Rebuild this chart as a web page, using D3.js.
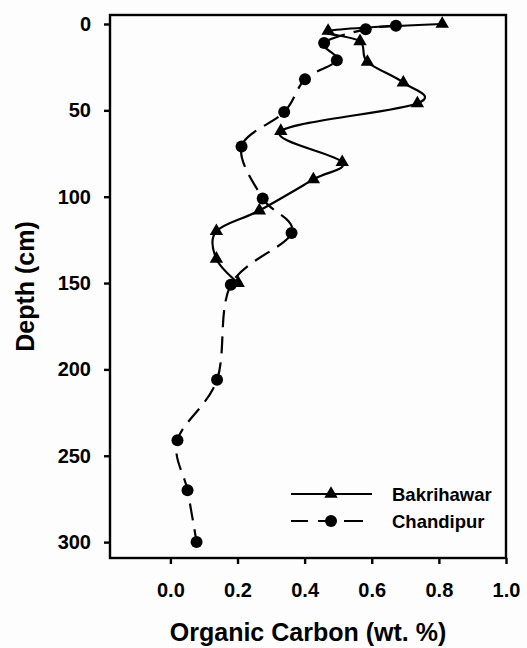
<!DOCTYPE html>
<html>
<head>
<meta charset="utf-8">
<script src="https://cdnjs.cloudflare.com/ajax/libs/d3/7.8.5/d3.min.js"></script>
<style>
  body { margin: 0; background: #fdfdfd; }
  svg text { font-family: "Liberation Sans", Arial, sans-serif; font-weight: bold; fill: #000; }
</style>
</head>
<body>
<div id="chart"></div>
<script>
// Bakrihawar core (solid line, triangles)
var bakDepth = [0, 4, 10, 22, 34, 46, 62, 80, 90, 108, 120, 136, 150];
var bakOC    = [0.81, 0.47, 0.565, 0.587, 0.694, 0.736, 0.329, 0.512, 0.426, 0.265, 0.137, 0.137, 0.202];

// Chandipur core (dashed line, circles)
var chaDepth = [1, 3, 11, 21, 32, 51, 71, 101, 121, 151, 206, 241, 270, 300];
var chaOC    = [0.672, 0.582, 0.458, 0.496, 0.401, 0.339, 0.212, 0.275, 0.361, 0.180, 0.139, 0.021, 0.051, 0.078];

var xTicks = [0.0, 0.2, 0.4, 0.6, 0.8, 1.0];
var yTicks = [0, 50, 100, 150, 200, 250, 300];
var seriesNames = ["Bakrihawar", "Chandipur"];

var W = 527, H = 648;
var pLeft = 110, pRight = 506, pTop = 15, pBottom = 558;

var svg = d3.select("#chart").append("svg")
	.attr("width", W)
	.attr("height", H);

var x = d3.scaleLinear().domain([-0.18, 1.0]).range([pLeft, pRight]);
var y = d3.scaleLinear().domain([-5.2, 309.2]).range([pTop, pBottom]);

// frame
svg.append("rect")
	.attr("x", pLeft).attr("y", pTop)
	.attr("width", pRight - pLeft).attr("height", pBottom - pTop)
	.style("fill", "none").style("stroke", "#000").style("stroke-width", 2.4);

// axes
var xAxis = svg.append("g")
	.attr("transform", "translate(0," + pBottom + ")")
	.call(d3.axisBottom(x).tickValues(xTicks).tickFormat(d3.format(".1f")).tickSizeOuter(0).tickSizeInner(6).tickPadding(19));
var yAxis = svg.append("g")
	.attr("transform", "translate(" + pLeft + ",0)")
	.call(d3.axisLeft(y).tickValues(yTicks).tickSizeOuter(0).tickSizeInner(6).tickPadding(13));

[xAxis, yAxis].forEach(function(a){
	a.select(".domain").remove();
	a.selectAll(".tick line").style("stroke", "#000").style("stroke-width", 2.4);
	a.selectAll(".tick text").style("font-size", "20px").style("font-family", "Liberation Sans, Arial, sans-serif").style("font-weight", "bold");
});

// axis titles
svg.append("text")
	.attr("x", (pLeft + pRight) / 2)
	.attr("y", 641)
	.attr("text-anchor", "middle")
	.style("font-size", "25px")
	.text("Organic Carbon (wt. %)");

svg.append("text")
	.attr("transform", "translate(34," + (pTop + pBottom) / 2 + ") rotate(-90)")
	.attr("text-anchor", "middle")
	.style("font-size", "25px")
	.text("Depth (cm)");

var bak = bakDepth.map(function(d, i){ return [bakOC[i], d]; });
var cha = chaDepth.map(function(d, i){ return [chaOC[i], d]; });

var line = d3.line()
	.x(function(d){ return x(d[0]); })
	.y(function(d){ return y(d[1]); })
	.curve(d3.curveCatmullRom.alpha(0));

svg.append("path")
	.attr("d", line(cha))
	.style("fill", "none").style("stroke", "#000").style("stroke-width", 2.2)
	.style("stroke-dasharray", "17,9");

svg.append("path")
	.attr("d", line(bak))
	.style("fill", "none").style("stroke", "#000").style("stroke-width", 2.2);

var tri = d3.symbol().type(d3.symbolTriangle).size(78);

svg.append("g").selectAll("path")
	.data(bak).enter().append("path")
	.attr("d", tri)
	.attr("transform", function(d){ return "translate(" + x(d[0]) + "," + y(d[1]) + ")"; })
	.style("fill", "#000");

svg.append("g").selectAll("circle")
	.data(cha).enter().append("circle")
	.attr("cx", function(d){ return x(d[0]); })
	.attr("cy", function(d){ return y(d[1]); })
	.attr("r", 6)
	.style("fill", "#000");

// legend
var legend = svg.append("g").attr("transform", "translate(291,494)");
seriesNames.forEach(function(name, i){
	var g = legend.append("g").attr("transform", "translate(0," + i * 27 + ")");
	g.append("line")
		.attr("x1", 0).attr("x2", i === 0 ? 81 : 72)
		.style("stroke", "#000").style("stroke-width", 2.2)
		.style("stroke-dasharray", i === 0 ? null : "17,10,18,8,19");
	if (i === 0) {
		g.append("path").attr("d", tri).attr("transform", "translate(40,0)").style("fill", "#000");
	} else {
		g.append("circle").attr("cx", 40).attr("r", 6).style("fill", "#000");
	}
	g.append("text")
		.attr("x", 101).attr("y", 6.5)
		.style("font-size", "18.5px")
		.text(name);
});
</script>
</body>
</html>
